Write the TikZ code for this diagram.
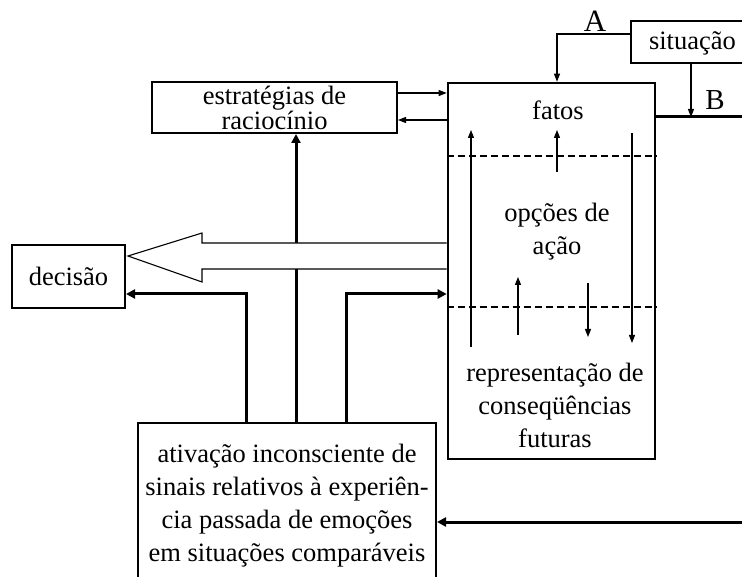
\documentclass[tikz,border=0pt]{standalone}
\usepackage{fontspec}
\setmainfont{Liberation Serif}
\usetikzlibrary{arrows.meta,calc}
\begin{document}
\begin{tikzpicture}[x=1pt,y=-1pt,
  txt/.style={font=\fontsize{26.5}{33}\selectfont, inner sep=0pt},
  boxA/.style={draw, line width=2pt, inner sep=0pt, font=\fontsize{26.5}{33}\selectfont, align=center},
  thinarrow/.style={line width=1.1pt, -{Triangle[length=8pt,width=6pt]}},
  thickarrow/.style={line width=3pt, -{Triangle[length=9pt,width=9pt]}},
  thickline/.style={line width=3pt},
  dashA/.style={line width=2pt, dash pattern=on 7pt off 4pt},
  dashB/.style={line width=1.2pt, dash pattern=on 7pt off 4pt}
]
\useasboundingbox (0,0) rectangle (742,577);
\clip (0,0) rectangle (742,577);

% boxes
\node[boxA, line width=2.6pt, minimum width=207pt, minimum height=376pt] (main) at (551.5,271) {};
\node[boxA, anchor=west, inner xsep=18pt, minimum height=42pt, text height=17pt, text depth=1pt] (sit) at (630,42) {situação};
\node[boxA, minimum width=245pt, minimum height=51pt, font=\fontsize{26.5}{25}\selectfont] (est) at (274.5,107.5) {estratégias de\\raciocínio};
\node[boxA, minimum width=113pt, minimum height=63pt] (dec) at (68.5,276.5) {decisão};
\node[boxA, minimum width=298pt, minimum height=166pt] (act) at (287,506) {ativação inconsciente de\\sinais relativos à experiên-\\cia passada de emoções\\em situações comparáveis};

% texts inside main box
\node[txt, anchor=base] (fatos) at (558,120) {fatos};
\node[txt, align=center] (opc) at (557,232) {opções de\\ação};
\node[txt, align=center] (rep) at (555,405) {representação de\\conseqüências\\futuras};

% labels A and B
\node[txt, anchor=base, font=\fontsize{31}{33}\selectfont] (labA) at (595,32) {A};
\node[txt, anchor=base, font=\fontsize{29}{33}\selectfont] (labB) at (715,110) {B};

% helper coordinates
\coordinate (aturn) at (557,34);
\coordinate (bx) at (691,117);
\coordinate (offB) at (760,117);
\coordinate (offR) at (760,522);
\coordinate (e1) at (0,93);
\coordinate (e2) at (0,120);
\coordinate (L) at (246,294);
\coordinate (M) at (296,0);
\coordinate (R) at (346,294);
\coordinate (d1) at (0,156);
\coordinate (d2) at (0,307);

% A and B
\draw[thinarrow] (sit.west |- aturn) -- (aturn) -- (aturn |- main.north);
\draw[thickline] (main.east |- bx) -- (offB);
\draw[thinarrow] (bx |- sit.south) -- (bx);
\draw[thickarrow] (offR) -- (act.east |- offR);

% strategies arrows
\draw[thinarrow] (est.east |- e1) -- (main.west |- e1);
\draw[thinarrow] (main.west |- e2) -- (est.east |- e2);

% thick arrows from act
\draw[thickarrow] (act.north -| M) -- (est.south -| M);
\draw[thickarrow] (act.north -| L) -- (L) -- (dec.east |- L);
\draw[thickarrow] (act.north -| R) -- (R) -- (main.west |- R);

% hollow arrow
\draw[line width=1.1pt, fill=white]
  (main.west |- 0,243) -- (202,243) -- (202,233) -- ($(dec.east)+(2,-20.5)$) -- (202,282) -- (202,269) -- (main.west |- 0,269);

% dashed separators
\draw[dashA] (main.west |- d1) -- (main.east |- d1);
\draw[dashB] (main.west |- d2) -- (main.east |- d2);

% inner arrows
\coordinate (i1a) at (471,347); \coordinate (i1b) at (471,130);
\coordinate (i2a) at (557,172); \coordinate (i2b) at (557,130);
\coordinate (i3a) at (632,133); \coordinate (i3b) at (632,343);
\coordinate (i4a) at (518,335); \coordinate (i4b) at (518,277);
\coordinate (i5a) at (588,283); \coordinate (i5b) at (588,337);
\draw[thinarrow] (i1a) -- (i1b);
\draw[thinarrow] (i2a) -- (i2b);
\draw[thinarrow] (i3a) -- (i3b);
\draw[thinarrow] (i4a) -- (i4b);
\draw[thinarrow] (i5a) -- (i5b);
\end{tikzpicture}
\end{document}
